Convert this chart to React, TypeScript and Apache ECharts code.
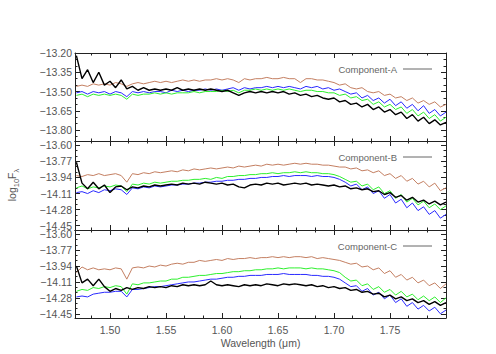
import React, { useEffect, useRef } from "react";
import * as echarts from "echarts";

const wavelength = [
  1.470, 1.475, 1.480, 1.485, 1.490, 1.495, 1.500, 1.505, 1.510, 1.515,
  1.520, 1.525, 1.530, 1.535, 1.540, 1.545, 1.550, 1.555, 1.560, 1.565,
  1.570, 1.575, 1.580, 1.585, 1.590, 1.595, 1.600, 1.605, 1.610, 1.615,
  1.620, 1.625, 1.630, 1.635, 1.640, 1.645, 1.650, 1.655, 1.660, 1.665,
  1.670, 1.675, 1.680, 1.685, 1.690, 1.695, 1.700, 1.705, 1.710, 1.715,
  1.720, 1.725, 1.730, 1.735, 1.740, 1.745, 1.750, 1.755, 1.760, 1.765,
  1.770, 1.775, 1.780, 1.785, 1.790, 1.795, 1.800,
];

// Component-A
const brownA = [
  -13.46, -13.45, -13.46, -13.44, -13.45, -13.44, -13.45, -13.43, -13.44, -13.46,
  -13.44, -13.43, -13.44, -13.43, -13.42, -13.43, -13.42, -13.43, -13.42, -13.41,
  -13.42, -13.41, -13.42, -13.41, -13.41, -13.40, -13.41, -13.40, -13.41, -13.43,
  -13.40, -13.41, -13.40, -13.40, -13.39, -13.40, -13.40, -13.39, -13.40, -13.40,
  -13.43, -13.40, -13.40, -13.41, -13.41, -13.42, -13.43, -13.45, -13.44, -13.47,
  -13.48, -13.47, -13.50, -13.51, -13.50, -13.53, -13.52, -13.55, -13.54, -13.57,
  -13.55, -13.59, -13.57, -13.60, -13.58, -13.62, -13.60,
];
const blueA = [
  -13.51, -13.50, -13.52, -13.50, -13.51, -13.50, -13.52, -13.50, -13.51, -13.54,
  -13.50, -13.51, -13.50, -13.51, -13.50, -13.50, -13.51, -13.49, -13.50, -13.49,
  -13.50, -13.49, -13.49, -13.48, -13.49, -13.48, -13.49, -13.48, -13.47, -13.49,
  -13.47, -13.48, -13.47, -13.47, -13.46, -13.47, -13.46, -13.47, -13.46, -13.47,
  -13.48, -13.46, -13.47, -13.46, -13.48, -13.47, -13.49, -13.48, -13.50, -13.52,
  -13.51, -13.55, -13.53, -13.57, -13.55, -13.59, -13.56, -13.61, -13.58, -13.63,
  -13.60, -13.65, -13.61, -13.67, -13.64, -13.69, -13.66,
];
const greenA = [
  -13.53, -13.52, -13.54, -13.52, -13.53, -13.52, -13.53, -13.52, -13.53, -13.56,
  -13.52, -13.53, -13.52, -13.52, -13.51, -13.52, -13.51, -13.52, -13.51, -13.51,
  -13.51, -13.50, -13.51, -13.50, -13.50, -13.50, -13.49, -13.50, -13.49, -13.51,
  -13.49, -13.49, -13.48, -13.49, -13.48, -13.49, -13.48, -13.49, -13.48, -13.49,
  -13.50, -13.49, -13.49, -13.50, -13.50, -13.51, -13.51, -13.53, -13.52, -13.55,
  -13.54, -13.57, -13.56, -13.60, -13.58, -13.62, -13.60, -13.64, -13.62, -13.67,
  -13.64, -13.69, -13.66, -13.71, -13.68, -13.73, -13.70,
];
const blackA = [
  -13.22, -13.40, -13.33, -13.43, -13.35, -13.45, -13.42, -13.47, -13.41, -13.48,
  -13.46, -13.49, -13.47, -13.49, -13.48, -13.49, -13.48, -13.49, -13.47, -13.49,
  -13.48, -13.49, -13.48, -13.49, -13.48, -13.49, -13.50, -13.49, -13.51, -13.53,
  -13.51, -13.50, -13.51, -13.50, -13.51, -13.50, -13.51, -13.50, -13.52, -13.51,
  -13.53, -13.52, -13.54, -13.53, -13.55, -13.56, -13.55, -13.58, -13.57, -13.60,
  -13.59, -13.62, -13.60, -13.64, -13.62, -13.66, -13.64, -13.68, -13.66, -13.71,
  -13.68, -13.73, -13.70, -13.75, -13.72, -13.76, -13.74,
];

// Component-B
const brownB = [
  -13.92, -13.93, -13.91, -13.92, -13.90, -13.92, -13.91, -13.90, -13.92, -13.99,
  -13.90, -13.91, -13.89, -13.90, -13.88, -13.89, -13.88, -13.87, -13.88, -13.86,
  -13.87, -13.85, -13.86, -13.85, -13.84, -13.85, -13.84, -13.83, -13.84, -13.82,
  -13.83, -13.82, -13.81, -13.82, -13.80, -13.81, -13.80, -13.81, -13.80, -13.79,
  -13.80, -13.79, -13.80, -13.80, -13.81, -13.81, -13.82, -13.83, -13.83, -13.85,
  -13.84, -13.87, -13.86, -13.89, -13.87, -13.92, -13.90, -13.95, -13.92, -13.98,
  -13.95, -14.01, -13.98, -14.04, -14.00, -14.08, -14.05,
];
const blueB = [
  -14.10, -14.09, -14.11, -14.08, -14.10, -14.07, -14.08, -14.06, -14.07, -14.12,
  -14.05, -14.06, -14.04, -14.05, -14.03, -14.04, -14.03, -14.02, -14.02, -14.01,
  -14.01, -14.00, -14.00, -13.99, -13.99, -13.98, -13.98, -13.97, -13.97, -13.96,
  -13.96, -13.95, -13.95, -13.94, -13.94, -13.93, -13.93, -13.92, -13.93, -13.92,
  -13.92, -13.92, -13.93, -13.92, -13.93, -13.93, -13.94, -13.96, -13.99, -14.03,
  -14.01, -14.07, -14.04, -14.11, -14.08, -14.16, -14.12, -14.21, -14.17, -14.26,
  -14.21, -14.29, -14.25, -14.33, -14.29, -14.37, -14.33,
];
const greenB = [
  -14.05, -14.03, -14.06, -14.04, -14.05, -14.03, -14.04, -14.02, -14.03, -14.09,
  -14.01, -14.02, -14.00, -14.01, -13.99, -14.00, -13.99, -13.98, -13.98, -13.97,
  -13.97, -13.96, -13.96, -13.95, -13.96, -13.94, -13.95, -13.93, -13.93, -13.92,
  -13.92, -13.91, -13.91, -13.90, -13.90, -13.89, -13.90, -13.89, -13.89, -13.88,
  -13.89, -13.88, -13.89, -13.89, -13.90, -13.90, -13.91, -13.93, -13.96, -13.99,
  -13.98, -14.03, -14.01, -14.07, -14.04, -14.11, -14.08, -14.16, -14.12, -14.20,
  -14.16, -14.23, -14.19, -14.26, -14.22, -14.28, -14.24,
];
const blackB = [
  -13.78, -14.00, -14.06, -13.99, -14.06, -14.02, -14.10, -14.04, -14.03, -14.07,
  -14.04, -14.05, -14.03, -14.04, -14.02, -14.03, -14.02, -14.01, -14.02, -14.00,
  -14.01, -14.00, -14.01, -13.99, -14.00, -14.01, -14.00, -14.02, -14.01, -14.04,
  -14.05, -14.02, -14.01, -14.02, -14.00, -14.01, -14.00, -14.02, -14.01, -14.00,
  -14.01, -14.00, -14.02, -14.01, -14.02, -14.03, -14.02, -14.04, -14.03, -14.06,
  -14.05, -14.07, -14.06, -14.09, -14.08, -14.12, -14.10, -14.15, -14.13, -14.18,
  -14.15, -14.20, -14.18, -14.22, -14.19, -14.23, -14.20,
];

// Component-C
const brownC = [
  -14.01, -13.95, -13.98, -13.96, -13.98, -13.97, -13.98, -13.96, -13.97, -14.08,
  -13.96, -13.95, -13.96, -13.94, -13.95, -13.93, -13.94, -13.92, -13.91, -13.92,
  -13.90, -13.90, -13.88, -13.89, -13.88, -13.87, -13.88, -13.86, -13.87, -13.86,
  -13.86, -13.85, -13.86, -13.85, -13.85, -13.84, -13.85, -13.84, -13.85, -13.84,
  -13.84, -13.85, -13.84, -13.86, -13.85, -13.86, -13.87, -13.88, -13.90, -13.92,
  -13.91, -13.95, -13.94, -13.98, -13.96, -14.02, -13.99, -14.06, -14.03, -14.09,
  -14.06, -14.12, -14.09, -14.15, -14.12, -14.18, -14.13,
];
const blueC = [
  -14.27, -14.26, -14.27, -14.24, -14.23, -14.22, -14.22, -14.21, -14.21, -14.27,
  -14.19, -14.19, -14.18, -14.17, -14.16, -14.16, -14.15, -14.14, -14.13, -14.12,
  -14.11, -14.11, -14.10, -14.09, -14.08, -14.08, -14.07, -14.06, -14.06, -14.05,
  -14.05, -14.04, -14.04, -14.04, -14.03, -14.03, -14.03, -14.02, -14.03, -14.03,
  -14.03, -14.03, -14.04, -14.04, -14.05, -14.05, -14.06, -14.08, -14.12, -14.16,
  -14.15, -14.21, -14.18, -14.25, -14.22, -14.29, -14.25, -14.33, -14.29, -14.37,
  -14.33, -14.40, -14.36, -14.42, -14.38, -14.45, -14.41,
];
const greenC = [
  -14.21, -14.19, -14.20, -14.17, -14.18, -14.16, -14.17, -14.15, -14.16, -14.24,
  -14.13, -14.14, -14.12, -14.12, -14.11, -14.10, -14.10, -14.08, -14.08, -14.06,
  -14.06, -14.05, -14.04, -14.04, -14.03, -14.02, -14.02, -14.01, -14.00, -14.00,
  -13.99, -13.99, -13.98, -13.98, -13.97, -13.97, -13.96, -13.97, -13.96, -13.96,
  -13.96, -13.97, -13.96, -13.97, -13.97, -13.98, -13.99, -14.01, -14.06, -14.10,
  -14.09, -14.15, -14.13, -14.19, -14.16, -14.22, -14.19, -14.25, -14.21, -14.27,
  -14.24, -14.30, -14.26, -14.31, -14.27, -14.33, -14.28,
];
const blackC = [
  -13.94, -14.12, -14.08, -14.15, -14.08, -14.16, -14.21, -14.18, -14.20, -14.17,
  -14.19, -14.17, -14.18, -14.16, -14.17, -14.16, -14.17, -14.15, -14.16, -14.14,
  -14.15, -14.14, -14.15, -14.14, -14.10, -14.14, -14.15, -14.14, -14.15, -14.16,
  -14.14, -14.15, -14.14, -14.15, -14.13, -14.14, -14.15, -14.13, -14.14, -14.13,
  -14.14, -14.15, -14.14, -14.16, -14.15, -14.17, -14.16, -14.18, -14.17, -14.20,
  -14.19, -14.22, -14.21, -14.24, -14.23, -14.27, -14.25, -14.29, -14.27, -14.31,
  -14.29, -14.33, -14.31, -14.35, -14.32, -14.36, -14.33,
];

const panelNames = ["Component-A", "Component-B", "Component-C"];
const yTicksA = [-13.2, -13.35, -13.5, -13.65, -13.8];
const yTicksBC = [-13.6, -13.77, -13.94, -14.11, -14.28, -14.45];
const yRangeA = [-13.885, -13.2];
const yRangeBC = [-14.495, -13.555];
const xTicks = [1.5, 1.55, 1.6, 1.65, 1.7, 1.75, 1.8];
const xTickLabels = [1.5, 1.55, 1.6, 1.65, 1.7, 1.75];
const xRange = [1.46875, 1.8];

const FONT = '"Liberation Sans", Arial, Helvetica, sans-serif';
const FRAME = "#222";
const TXT = "#555";
const COLORS = { brown: "#c47f62", blue: "#2a2aff", green: "#2ef02e", black: "#000000" };

function minorTicks(majors: number[], lo: number, hi: number): number[] {
  const s = [...majors].sort((a, b) => a - b);
  const step = (s[1] - s[0]) / 3;
  const out: number[] = [];
  let v = s[0] - step;
  while (v > lo + 1e-9) { out.push(v); v -= step; }
  for (let i = 0; i < s.length - 1; i++) {
    out.push(s[i] + step, s[i] + 2 * step);
  }
  v = s[s.length - 1] + step;
  while (v < hi - 1e-9) { out.push(v); v += step; }
  return out.map((x) => Math.round(x * 1e6) / 1e6);
}

export default function App() {
  const ref = useRef<HTMLDivElement>(null);
  useEffect(() => {
    if (!ref.current) return;
    const chart = echarts.init(ref.current, undefined, { renderer: "svg" });

    const grids = [
      { left: 75, top: 53, width: 371, height: 88 },
      { left: 75, top: 141, width: 371, height: 89 },
      { left: 75, top: 230, width: 371, height: 88 },
    ];
    const panels = [
      { brown: brownA, blue: blueA, green: greenA, black: blackA, range: yRangeA, ticks: yTicksA },
      { brown: brownB, blue: blueB, green: greenB, black: blackB, range: yRangeBC, ticks: yTicksBC },
      { brown: brownC, blue: blueC, green: greenC, black: blackC, range: yRangeBC, ticks: yTicksBC },
    ];
    const xMinor = minorTicks(xTicks, xRange[0], xRange[1]);

    const xAxis: any[] = [];
    const yAxis: any[] = [];
    const series: any[] = [];
    const graphic: any[] = [];

    panels.forEach((p, g) => {
      const xc = {
        type: "value", gridIndex: g, min: xRange[0], max: xRange[1],
        splitLine: { show: false },
      };
      const major = (pos: string, labels: boolean) => ({
        ...xc, position: pos,
        axisLine: { show: true, onZero: false, lineStyle: { color: FRAME, width: 1 } },
        axisTick: { show: true, inside: true, length: 5, customValues: xTicks, lineStyle: { color: FRAME, width: 1 } },
        axisLabel: {
          show: labels, customValues: xTickLabels, margin: 6,
          formatter: (v: number) => v.toFixed(2), color: TXT, fontSize: 10.5, fontFamily: FONT,
        },
      });
      const minor = (pos: string) => ({
        ...xc, position: pos,
        axisLine: { show: false, onZero: false },
        axisTick: { show: true, inside: true, length: 2.5, customValues: xMinor, lineStyle: { color: FRAME, width: 1 } },
        axisLabel: { show: false },
      });
      xAxis.push(major("bottom", g === 2), minor("bottom"), major("top", false), minor("top"));

      const yMinor = minorTicks(p.ticks, p.range[0], p.range[1]);
      const yc = {
        type: "value", gridIndex: g, min: p.range[0], max: p.range[1],
        splitLine: { show: false },
      };
      const ymajor = (pos: string, labels: boolean) => ({
        ...yc, position: pos,
        axisLine: { show: true, onZero: false, lineStyle: { color: FRAME, width: 1 } },
        axisTick: { show: true, inside: true, length: 5, customValues: p.ticks, lineStyle: { color: FRAME, width: 1 } },
        axisLabel: {
          show: labels, customValues: p.ticks, margin: 3,
          formatter: (v: number) => (v < 0 ? "\u2212" : "") + Math.abs(v).toFixed(2),
          color: TXT, fontSize: 10.5, fontFamily: FONT,
        },
      });
      const yminor = (pos: string) => ({
        ...yc, position: pos,
        axisLine: { show: false, onZero: false },
        axisTick: { show: true, inside: true, length: 2.5, customValues: yMinor, lineStyle: { color: FRAME, width: 1 } },
        axisLabel: { show: false },
      });
      yAxis.push(ymajor("left", true), yminor("left"), ymajor("right", false), yminor("right"));

      const mk = (data: number[], color: string, width: number) => ({
        type: "line",
        xAxisIndex: g * 4,
        yAxisIndex: g * 4,
        data: wavelength.map((w, i) => [w, data[i]]),
        showSymbol: false,
        symbol: "none",
        lineStyle: { color, width },
        itemStyle: { color },
        silent: true,
        clip: true,
      });
      series.push(
        mk(p.brown, COLORS.brown, 1),
        mk(p.blue, COLORS.blue, 1),
        mk(p.green, COLORS.green, 1),
        mk(p.black, COLORS.black, 1.4)
      );

      const ly = grids[g].top + 16;
      graphic.push(
        {
          type: "text", x: 397, y: ly, silent: true,
          style: {
            text: panelNames[g], fill: "#666", fontSize: 9.5, fontFamily: FONT,
            align: "right", verticalAlign: "middle", textAlign: "right", textVerticalAlign: "middle",
          },
        },
        {
          type: "line", silent: true,
          shape: { x1: 403, y1: ly, x2: 432, y2: ly },
          style: { stroke: "#666", lineWidth: 1 },
        }
      );
    });

    graphic.push(
      {
        type: "text", x: 260.5, y: 343, silent: true,
        style: {
          text: "Wavelength (\u03bcm)", fill: TXT, fontSize: 10.5, fontFamily: FONT,
          align: "center", verticalAlign: "middle", textAlign: "center", textVerticalAlign: "middle",
        },
      },
      {
        type: "text", x: 12, y: 185, rotation: Math.PI / 2, silent: true,
        style: {
          text: "{a|log}{b|10}{a|F}{b|\u03bb}",
          align: "center", verticalAlign: "middle", textAlign: "center", textVerticalAlign: "middle",
          rich: {
            a: { fontSize: 10.5, fontFamily: FONT, fill: TXT, lineHeight: 16, verticalAlign: "middle" },
            b: { fontSize: 7.5, fontFamily: FONT, fill: TXT, lineHeight: 9, verticalAlign: "bottom" },
          },
        },
      }
    );

    chart.setOption({
      animation: false,
      backgroundColor: "#ffffff",
      grid: grids.map((g) => ({ ...g, containLabel: false, outerBoundsMode: "none" })),
      xAxis,
      yAxis,
      series,
      graphic,
    });
    return () => chart.dispose();
  }, []);

  return (
    <div
      ref={ref}
      style={{ position: "fixed", left: 0, top: 0, width: 496, height: 354, background: "#fff" }}
    />
  );
}
